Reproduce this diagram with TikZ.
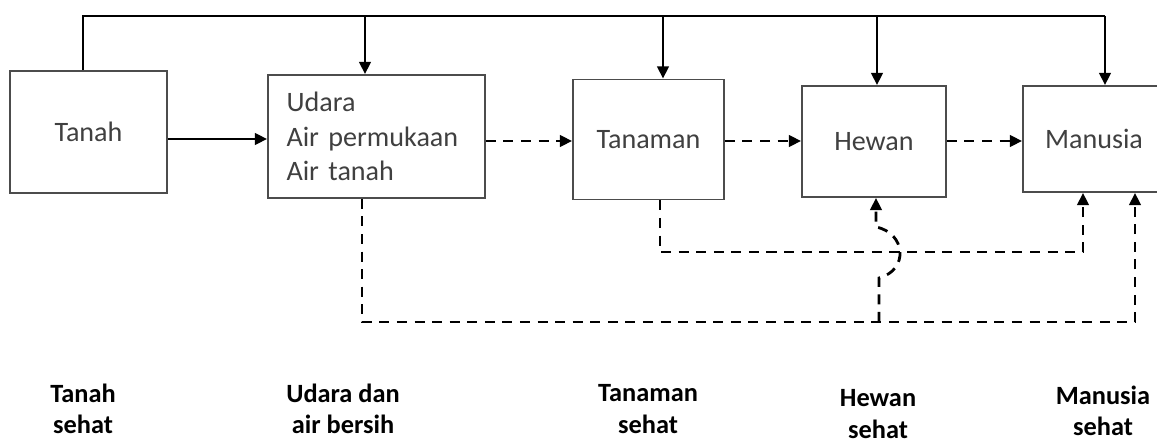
\documentclass[tikz,border=0pt]{standalone}
\usepackage{fontspec}
\setmainfont{Carlito}
\usetikzlibrary{arrows.meta}

\begin{document}
\begin{tikzpicture}[x=0.02cm,y=-0.02cm, line width=1.6pt, >={Triangle[length=7pt,width=6.5pt]},
  box/.style={draw=black!70, line width=1pt, text=black!75, inner sep=0pt, font=\fontsize{16}{19.5}\selectfont},
  dsh/.style={dash pattern=on 5.7pt off 4.3pt},
  lbl/.style={align=center, font=\fontsize{15}{18}\selectfont\bfseries}]
\useasboundingbox (0,0) rectangle (1157,446);
%boxes
\node[box, minimum width=3.14cm, minimum height=2.44cm] (tanah) at (88.5,132) {Tanah};
\node[box, minimum width=4.34cm, minimum height=2.46cm, align=left, text width=3.6cm] (udara) at (376.5,136.5) {Udara\\Air permukaan\\Air tanah};
\node[box, minimum width=3.02cm, minimum height=2.4cm] (tanaman) at (648.5,139.5) {Tanaman};
\node[box, minimum width=2.88cm, minimum height=2.22cm] (hewan) at (874,141.5) {Hewan};
\node[box, minimum width=2.84cm, minimum height=2.12cm] (manusia) at (1094,139) {Manusia};
%top line
\coordinate (busL) at (83,16);
\coordinate (busR) at (1105,16);
\coordinate (busU) at (365,16);
\coordinate (busT) at (663,16);
\coordinate (busH) at (877,16);
\draw (tanah.north -| busL) |- (busR);
\draw[->] (busR) -- (manusia.north -| busR);
\draw[->] (busU) -- (udara.north -| busU);
\draw[->] (busT) -- (tanaman.north -| busT);
\draw[->] (busH) -- (hewan.north -| busH);
%chain
\draw[->] (tanah.east |- 0,139) -- (udara.west |- 0,139);
\draw[->,dsh] (udara.east |- 0,141) -- (tanaman.west |- 0,141);
\draw[->,dsh] (tanaman.east |- 0,141) -- (hewan.west |- 0,141);
\draw[->,dsh] (hewan.east |- 0,141) -- (manusia.west |- 0,141);
%dashed return lines
\coordinate (a1) at (660,252);
\coordinate (a2) at (1083,252);
\draw[->,dsh] (tanaman.south -| a1) |- (a2) -- (manusia.south -| a2);
\coordinate (b1) at (362,322);
\coordinate (b2) at (1135,322);
\coordinate (h1) at (879,322);
\draw[->,dsh] (udara.south -| b1) |- (b2) -- (manusia.south -| b2);
\draw[->,dsh] (h1) -- ++(0,-44) .. controls +(30,-8) and +(30,6) .. ++(-3,-51) -- (hewan.south -| 876,0);
%labels
\node[lbl] (l1) at (83,409) {Tanah\\sehat};
\node[lbl] (l2) at (343,409) {Udara dan\\air bersih};
\node[lbl] (l3) at (648,409) {Tanaman\\sehat};
\node[lbl] (l4) at (878,414) {Hewan\\sehat};
\node[lbl] (l5) at (1103,411) {Manusia\\sehat};
\end{tikzpicture}
\end{document}
